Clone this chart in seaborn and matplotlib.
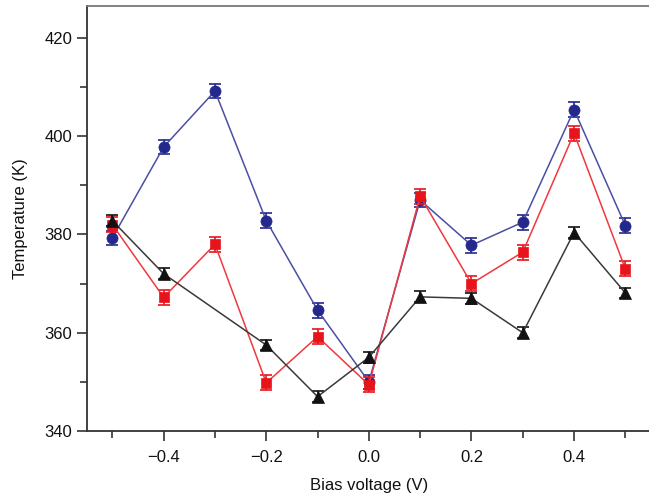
import matplotlib
matplotlib.use("Agg")
import matplotlib.pyplot as plt
import seaborn as sns
import pandas as pd
from matplotlib.ticker import MultipleLocator

# Bias voltage sweep (V)
bias = [-0.5, -0.4, -0.3, -0.2, -0.1, 0.0, 0.1, 0.2, 0.3, 0.4, 0.5]

# Temperature readings (K) for the three series
temp_blue = [379.3, 397.8, 409.2, 382.8, 364.6, 350.0, 387.0, 377.8, 382.5, 405.4, 381.8]
temp_red = [382.0, 367.2, 378.0, 349.8, 359.2, 349.4, 387.8, 370.0, 376.4, 400.6, 373.0]
bias_black = [-0.5, -0.4, -0.2, -0.1, 0.0, 0.1, 0.2, 0.3, 0.4, 0.5]
temp_black = [382.8, 372.0, 357.5, 347.0, 355.0, 367.3, 367.0, 360.0, 380.4, 368.1]

# Measurement uncertainty (K)
err_blue = [1.5] * len(bias)
err_red = [1.5] * len(bias)
err_black = [1.1] * len(bias_black)

sns.set_theme(style="ticks")
plt.rcParams["font.family"] = ["Liberation Sans", "DejaVu Sans"]

fig = plt.figure(figsize=(6.49, 4.98), dpi=100)
ax = fig.add_axes([0.1336, 0.1345, 0.8695, 0.8535])

series = [
    (bias, temp_blue, err_blue, "#4a4fa3", "#23288c", "o", 8.0),
    (bias, temp_red, err_red, "#f0383e", "#e8141c", "s", 7.5),
    (bias_black, temp_black, err_black, "#3a3a3a", "#111111", "^", 8.5),
]

for i, (xs, ys, es, lc, mc, mk, ms) in enumerate(series):
    df = pd.DataFrame({"bias": xs, "temp": ys})
    ax.errorbar(xs, ys, yerr=es, fmt="none", ecolor=mc, elinewidth=1.2,
                capsize=4, capthick=1.2, zorder=2 + 2 * i)
    sns.lineplot(data=df, x="bias", y="temp", ax=ax, color=lc, linewidth=1.1,
                 marker=mk, markersize=ms, markerfacecolor=mc,
                 markeredgecolor=mc, markeredgewidth=0.5, zorder=3 + 2 * i,
                 sort=False)

ax.set_xlim(-0.55, 0.55)
ax.set_ylim(340, 426.5)
ax.xaxis.set_minor_locator(MultipleLocator(0.1))
ax.yaxis.set_major_locator(MultipleLocator(20))
ax.yaxis.set_minor_locator(MultipleLocator(10))
ax.set_xticks([-0.4, -0.2, 0.0, 0.2, 0.4])
ax.set_xticklabels(["\u22120.4", "\u22120.2", "0.0", "0.2", "0.4"])

ax.tick_params(axis="both", which="major", direction="out", length=7,
               width=1.2, colors="#333333", labelsize=12, labelcolor="#111111")
ax.tick_params(axis="both", which="minor", direction="out", length=5,
               width=1.2, colors="#333333")
ax.tick_params(axis="x", which="major", pad=7)

for side in ["left", "bottom"]:
    ax.spines[side].set_color("#333333")
    ax.spines[side].set_linewidth(1.3)
ax.spines["top"].set_color("#777777")
ax.spines["top"].set_linewidth(1.3)
ax.spines["right"].set_visible(False)

ax.set_xlabel("Bias voltage (V)", fontsize=12, color="#111111", labelpad=9)
ax.set_ylabel("Temperature (K)", fontsize=12, color="#111111", labelpad=12)

fig.savefig("out.png", dpi=100)
